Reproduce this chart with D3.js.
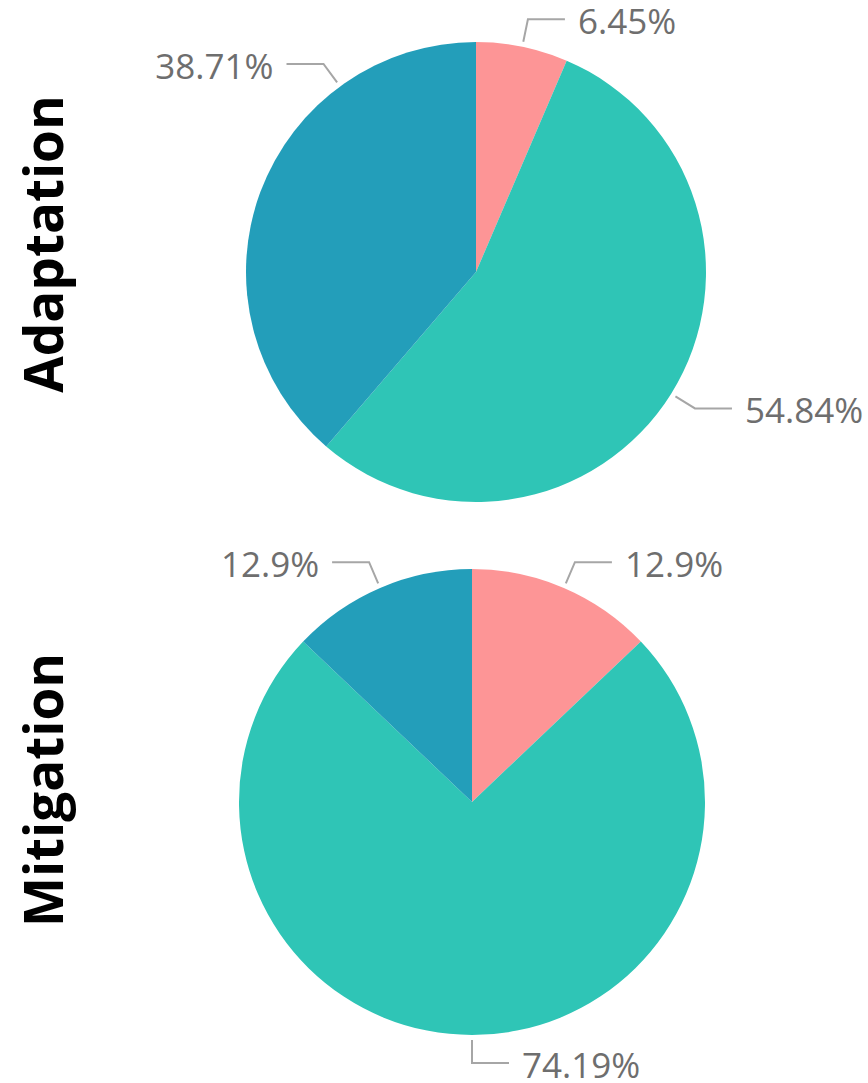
<!DOCTYPE html>
<html>
<head>
<meta charset="utf-8">
<script src="https://cdn.jsdelivr.net/npm/d3@7"></script>
<style>
  html, body { margin: 0; padding: 0; background: #ffffff; }
  svg { display: block; }
</style>
</head>
<body>
<div id="chart"></div>
<script>
// Slice order is clockwise from 12 o'clock
const sliceKeys = ['pink', 'teal', 'blue'];
const sliceColors = ['#fd9596', '#2fc5b6', '#239eba'];

const adaptationValues = [6.45, 54.84, 38.71];
const mitigationValues = [12.9, 74.19, 12.9];

// where along each slice the label leader sits (0..1), 0.5 = middle
const adaptationLabelPos = [0.5, 0.5, 0.74];
const mitigationLabelPos = [0.5, 0.5, 0.5];

const width = 868;
const height = 1083;

const svg = d3.select('#chart')
  .append('svg')
  .attr('width', width)
  .attr('height', height);

const pie = d3.pie().sort(null).value((d) => d);

function drawPie(values, labelPos, title, cx, cy, r, titleY) {
  const g = svg.append('g').attr('transform', `translate(${cx},${cy})`);
  const arcs = pie(values);
  const arc = d3.arc().innerRadius(0).outerRadius(r);

  g.selectAll('path.slice')
    .data(arcs)
    .enter()
    .append('path')
    .attr('class', 'slice')
    .attr('d', arc)
    .attr('fill', (d, i) => sliceColors[i]);

  // leader lines + labels
  const labels = arcs.map((d, i) => {
    const a = d.startAngle + (d.endAngle - d.startAngle) * labelPos[i];
    const p0 = [(r + 5) * Math.sin(a), -(r + 5) * Math.cos(a)];
    const p1 = [(r + 28) * Math.sin(a), -(r + 28) * Math.cos(a)];
    const right = Math.sin(a) >= -1e-6;
    const p2 = [p1[0] + (right ? 37 : -37), p1[1]];
    return { d, p0, p1, p2, right, text: `${d.value}%` };
  });

  g.selectAll('polyline.leader')
    .data(labels)
    .enter()
    .append('polyline')
    .attr('class', 'leader')
    .attr('points', (l) => [l.p0, l.p1, l.p2].map((p) => p.join(',')).join(' '))
    .attr('fill', 'none')
    .attr('stroke', '#a6a6a6')
    .attr('stroke-width', 2);

  g.selectAll('text.pct')
    .data(labels)
    .enter()
    .append('text')
    .attr('class', 'pct')
    .attr('x', (l) => l.p2[0] + (l.right ? 13 : -13))
    .attr('y', (l) => l.p2[1] + 15)
    .attr('text-anchor', (l) => (l.right ? 'start' : 'end'))
    .attr('font-family', '"Open Sans", "Noto Sans", sans-serif')
    .attr('font-size', 35)
    .attr('fill', '#6e6e6e')
    .text((l) => l.text);

  // rotated title on the left
  svg.append('text')
    .attr('transform', `translate(63,${titleY}) rotate(-90)`)
    .attr('text-anchor', 'middle')
    .attr('font-family', '"Open Sans", "Noto Sans", sans-serif')
    .attr('font-weight', 700)
    .attr('font-size', 53)
    .attr('fill', '#000000')
    .text(title);
}

drawPie(adaptationValues, adaptationLabelPos, 'Adaptation', 476, 272, 230, 244);
drawPie(mitigationValues, mitigationLabelPos, 'Mitigation', 472, 802, 233, 790);
</script>
</body>
</html>
